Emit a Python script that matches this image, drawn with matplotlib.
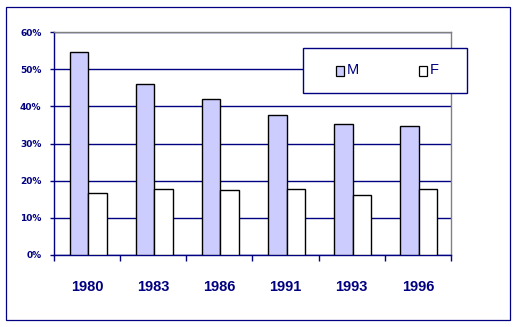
"""Bar chart: share by year, M vs F."""
import matplotlib
matplotlib.use("Agg")
import matplotlib.pyplot as plt
import numpy as np
from matplotlib.patches import Rectangle
from matplotlib.ticker import PercentFormatter, MultipleLocator

years = ["1980", "1983", "1986", "1991", "1993", "1996"]
m_vals = [54.5, 45.9, 41.9, 37.6, 35.2, 34.6]
f_vals = [16.6, 17.7, 17.4, 17.7, 16.1, 17.7]
series = ["M", "F"]

NAVY = "#000080"
M_COL = "#ccccff"
F_COL = "#ffffff"
W, H = 517, 327

fig = plt.figure(figsize=(W / 100, H / 100), dpi=100)


def fx(px):
    return px / W


def fy(py):
    return 1 - py / H


# outer chart border
fig.patches.append(Rectangle((fx(6), fy(320)), fx(504), 313 / H,
                             transform=fig.transFigure, fill=False,
                             edgecolor=NAVY, linewidth=0.9))

ax = fig.add_axes([fx(54), fy(255), fx(397), 223 / H])
x = np.arange(len(years))
ax.bar(x - 0.265, m_vals, width=0.28, align="edge", color=M_COL,
       edgecolor="black", linewidth=1.0, zorder=3)
ax.bar(x + 0.015, f_vals, width=0.28, align="edge", color=F_COL,
       edgecolor="black", linewidth=1.0, zorder=3)

ax.set_xlim(-0.5, len(years) - 0.5)
ax.set_ylim(0, 60)
ax.yaxis.set_major_locator(MultipleLocator(10))
ax.yaxis.set_major_formatter(PercentFormatter(decimals=0))
ax.set_axisbelow(True)
ax.grid(axis="y", color=NAVY, linewidth=1.0)
ax.grid(axis="x", visible=False)

for s in ("left", "bottom"):
    ax.spines[s].set_color(NAVY)
for s in ("top", "right"):
    ax.spines[s].set_color("#808080")
for s in ax.spines.values():
    s.set_linewidth(1.0)

ax.set_xticks(x)
ax.set_xticklabels(years)
ax.set_xticks(np.arange(-0.5, len(years)), minor=True)
ax.tick_params(axis="x", which="major", length=0, pad=18, labelcolor=NAVY)
ax.tick_params(axis="x", which="minor", length=4, width=1.0, color=NAVY,
               direction="out")
ax.tick_params(axis="y", length=3, width=1.0, color=NAVY, pad=6,
               labelcolor=NAVY)
for lab in ax.get_xticklabels():
    lab.set_fontfamily("Liberation Sans")
    lab.set_fontweight("bold")
    lab.set_fontsize(10.5)
for lab in ax.get_yticklabels():
    lab.set_fontfamily("DejaVu Sans")
    lab.set_fontweight("bold")
    lab.set_fontsize(6.5)

# legend box
fig.patches.append(Rectangle((fx(303), fy(93)), fx(164), 45 / H,
                             transform=fig.transFigure, facecolor="white",
                             edgecolor=NAVY, linewidth=1.0, zorder=5))
for name, col, px in zip(series, [M_COL, F_COL], [336, 419]):
    fig.patches.append(Rectangle((fx(px), fy(75.5)), fx(8), 10 / H,
                                 transform=fig.transFigure, facecolor=col,
                                 edgecolor="black", linewidth=0.9, zorder=6))
    fig.text(fx(px + 11), fy(70), name, color=NAVY, fontsize=10.5,
             family="Liberation Sans", va="center", ha="left", zorder=7)

fig.savefig("out.png", dpi=100)
